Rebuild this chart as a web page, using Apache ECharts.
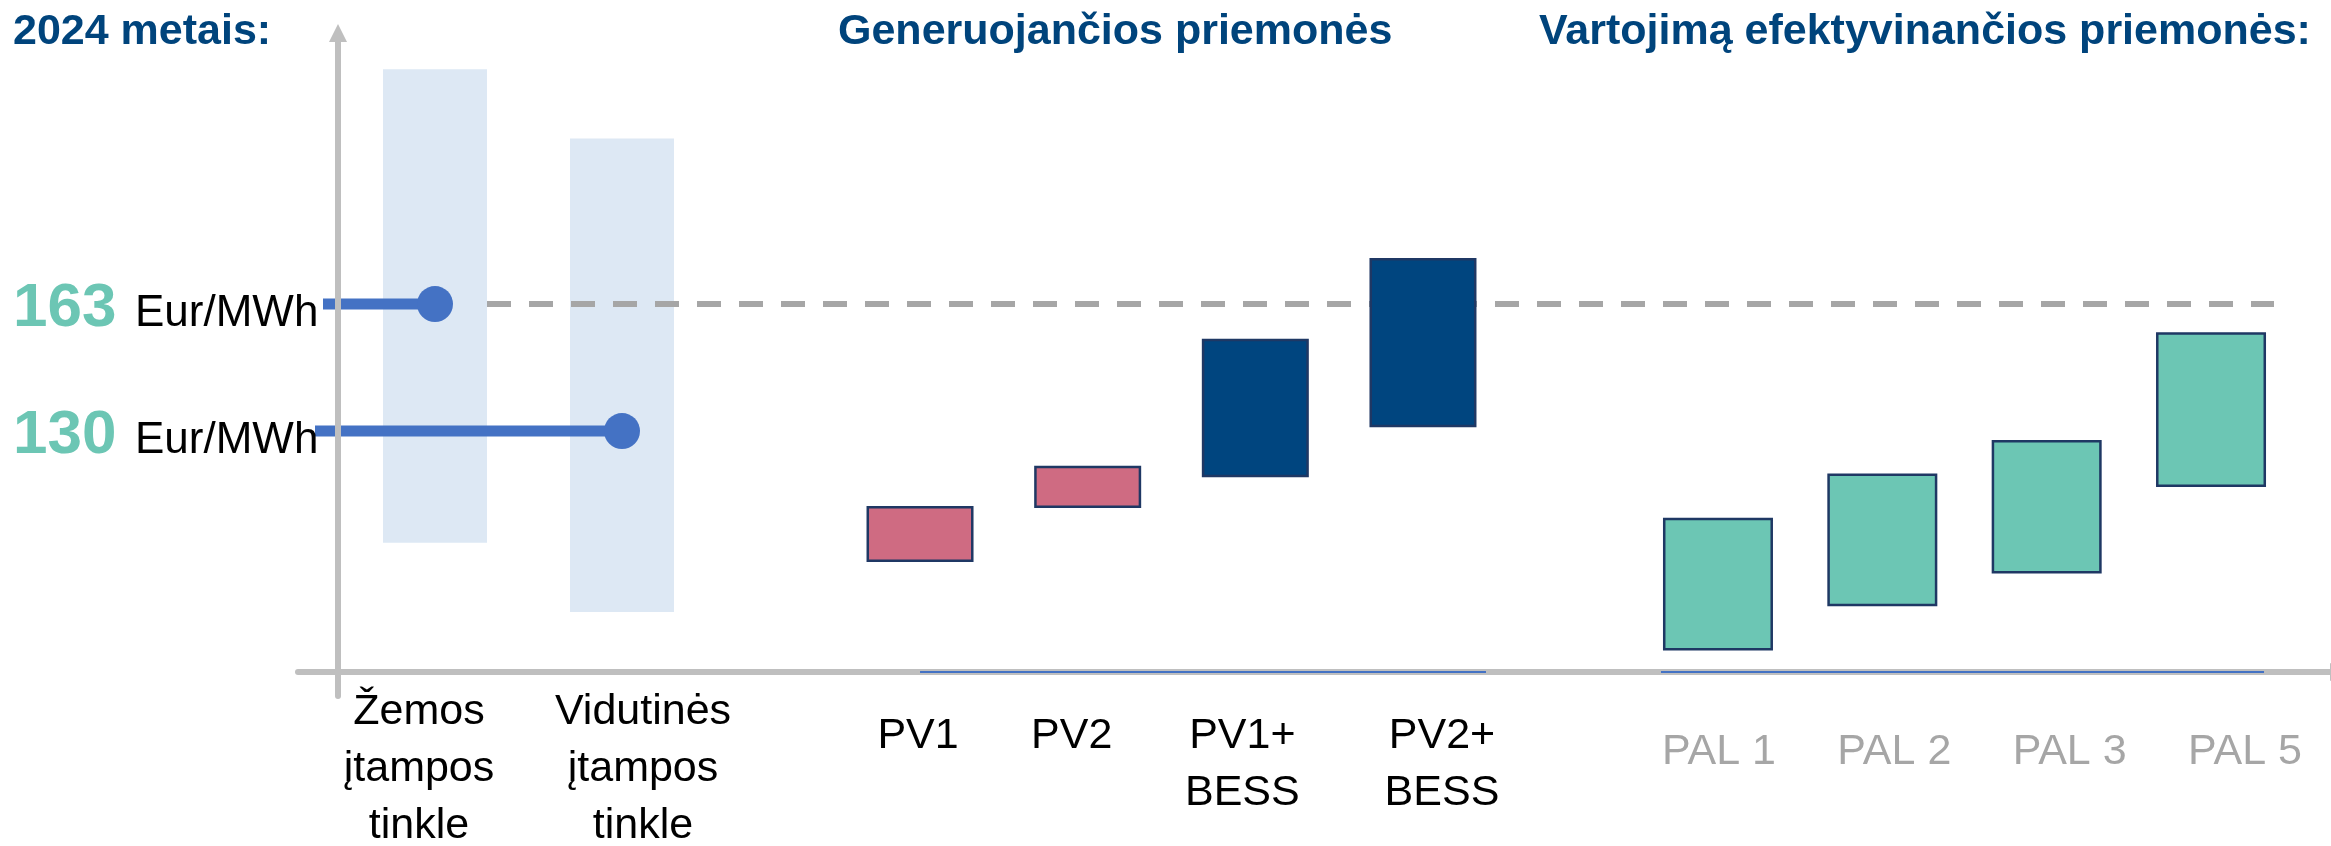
<!DOCTYPE html>
<html><head><meta charset="utf-8">
<script src="https://cdn.jsdelivr.net/npm/echarts@6/dist/echarts.min.js"></script>
<style>html,body{margin:0;padding:0;background:#fff}#c{width:2331px;height:846px}</style>
</head><body><div id="c"></div>
<script>
// ---------------- data ----------------
const titles = ['2024 metais:', 'Generuojančios priemonės', 'Vartojimą efektyvinančios priemonės:'];
const gridCategories = ['Žemos\nįtampos\ntinkle', 'Vidutinės\nįtampos\ntinkle'];
const gridLow = [101, 83];
const gridHigh = [224, 206];
const tariffValues = [163, 130];
const tariffUnit = 'Eur/MWh';
const referencePrice = 163;
const genCategories = ['PV1', 'PV2', 'PV1+\nBESS', 'PV2+\nBESS'];
const genLow = [96, 110, 118, 131];
const genHigh = [110.5, 121, 154, 175];
const effCategories = ['PAL 1', 'PAL 2', 'PAL 3', 'PAL 5'];
const effLow = [73, 84.5, 93, 115.5];
const effHigh = [107.5, 119, 127.7, 155.7];

// ---------------- style / layout ----------------
const FONT = 'Liberation Sans';
const Y_MIN = 67.4, Y_MAX = 232;
const genColors = ['#cf6b82', '#cf6b82', '#00457f', '#00457f'];
const effColor = '#6cc6b4';
const borderColor = '#1f3864';
const titleStyle = {fontSize: 43, fontWeight: 'bold', color: '#00447c', fontFamily: FONT};
const W = 2331;
// small horizontal nudges of the category labels (px)
const gridLabelShift = [-16, 21];
const genLabelShift = [-2, -16, -13, 19];
const effLabelShift = [1, 12, 23, 34];

const chart = echarts.init(document.getElementById('c'), null, {renderer: 'canvas'});

function dataGrid(l, r) {
  return {left: l, right: W - r, top: 38.5, bottom: 174, containLabel: false, outerBoundsMode: 'none'};
}
function shifted(cats, shifts) {
  return cats.map((c, i) => {
    const s = shifts[i];
    return {value: c, textStyle: {padding: s >= 0 ? [0, 0, 0, 2 * s] : [0, -2 * s, 0, 0]}};
  });
}
function catAxis(gi, cats, shifts, margin, color) {
  return {type: 'category', gridIndex: gi, data: shifted(cats, shifts), boundaryGap: true,
    axisLine: {show: false}, axisTick: {show: false}, splitLine: {show: false},
    axisLabel: {interval: 0, margin: margin, fontSize: 43, lineHeight: 57, color: color, fontFamily: FONT}};
}
function valAxis(gi) { return {type: 'value', gridIndex: gi, min: Y_MIN, max: Y_MAX, show: false}; }
function diff(h, l) { return h.map((v, i) => +(v - l[i]).toFixed(2)); }
function frameLine(endOffset) {
  return {show: true, onZero: false, symbol: ['none', 'triangle'], symbolSize: [18, 18],
    symbolOffset: [0, endOffset], lineStyle: {color: '#bfbfbf', width: 6}};
}

function baselineItem(startOff, endOff, lastIdx) {
  return function (params, api) {
    if (params.dataIndex !== 0) return null;
    const a = api.coord([0, Y_MIN]);
    const b = api.coord([lastIdx, Y_MIN]);
    return {type: 'line', shape: {x1: a[0] + startOff, y1: a[1], x2: b[0] + endOff, y2: b[1]},
      style: {stroke: '#4472c4', lineWidth: 2}};
  };
}

const option = {
  backgroundColor: '#ffffff',
  animation: false,
  title: [
    {text: titles[0], left: 13, top: 11, padding: 0, textStyle: titleStyle},
    {text: titles[1], left: 838, top: 11, padding: 0, textStyle: titleStyle},
    {text: titles[2], left: 1539, top: 11, padding: 0, textStyle: titleStyle}
  ],
  grid: [
    dataGrid(341.5, 715.5),
    dataGrid(836.2, 1506.8),
    dataGrid(1635.8, 2293.2),
    {left: 298, right: 0, top: 33, bottom: 150, containLabel: false, outerBoundsMode: 'none'}
  ],
  xAxis: [
    catAxis(0, gridCategories, gridLabelShift, 12, '#000000'),
    catAxis(1, genCategories, genLabelShift, 36, '#000000'),
    catAxis(2, effCategories, effLabelShift, 52, '#a6a6a6'),
    {type: 'value', gridIndex: 3, min: 0, max: 1, offset: -24, z: 5, axisLine: frameLine(8),
      axisTick: {show: false}, axisLabel: {show: false}, splitLine: {show: false}}
  ],
  yAxis: [
    valAxis(0), valAxis(1), valAxis(2),
    {type: 'value', gridIndex: 3, min: 0, max: 1, offset: -40, z: 5, axisLine: frameLine(0),
      axisTick: {show: false}, axisLabel: {show: false}, splitLine: {show: false}}
  ],
  series: [
    // grid tariff ranges
    {type: 'bar', xAxisIndex: 0, yAxisIndex: 0, stack: 'g', barWidth: 104, silent: true,
      itemStyle: {color: 'transparent'}, data: gridLow},
    {type: 'bar', xAxisIndex: 0, yAxisIndex: 0, stack: 'g', barWidth: 104, z: 2,
      itemStyle: {color: '#dde8f4'}, data: diff(gridHigh, gridLow)},
    // dashed reference line at the low-voltage tariff (starts at the bar's right edge)
    {type: 'custom', xAxisIndex: 0, yAxisIndex: 0, z: 3, silent: true,
      data: [[0, referencePrice]],
      renderItem: function (params, api) {
        const p = api.coord([api.value(0), api.value(1)]);
        return {type: 'line', shape: {x1: p[0] + 52, y1: p[1], x2: api.getWidth() - 57, y2: p[1]},
          style: {stroke: '#a6a6a6', lineWidth: 6, lineDash: [24, 18]}};
      }},
    // tariff lollipops with labels
    {type: 'custom', xAxisIndex: 0, yAxisIndex: 0, z: 3, silent: true,
      data: tariffValues.map((v, i) => [i, v]),
      renderItem: function (params, api) {
        const v = api.value(1);
        const p = api.coord([api.value(0), v]);
        const x0 = params.dataIndex === 0 ? 323 : 315;
        return {type: 'group', children: [
          {type: 'rect', shape: {x: x0, y: p[1] - 5.5, width: p[0] - x0, height: 11}, style: {fill: '#4472c4'}},
          {type: 'circle', shape: {cx: p[0], cy: p[1], r: 18}, style: {fill: '#4472c4'}},
          {type: 'text', style: {text: String(v), x: 13, y: p[1] + 5, fill: '#6cc6b4',
            fontSize: 62, fontWeight: 'bold', fontFamily: FONT, align: 'left', verticalAlign: 'middle'}},
          {type: 'text', style: {text: tariffUnit, x: 135, y: p[1] + 10, fill: '#000000',
            fontSize: 44, fontFamily: FONT, align: 'left', verticalAlign: 'middle'}}
        ]};
      }},
    // generating measures
    {type: 'bar', xAxisIndex: 1, yAxisIndex: 1, stack: 'p', barWidth: 107, silent: true,
      itemStyle: {color: 'transparent'}, data: genLow},
    {type: 'bar', xAxisIndex: 1, yAxisIndex: 1, stack: 'p', barWidth: 107, z: 4,
      itemStyle: {color: (p) => genColors[p.dataIndex], borderColor: borderColor, borderWidth: 2.5},
      data: diff(genHigh, genLow)},
    {type: 'custom', xAxisIndex: 1, yAxisIndex: 1, z: 6, silent: true,
      data: [[0, Y_MIN]], renderItem: baselineItem(0, 63, genCategories.length - 1)},
    // efficiency measures
    {type: 'bar', xAxisIndex: 2, yAxisIndex: 2, stack: 'e', barWidth: 110, silent: true,
      itemStyle: {color: 'transparent'}, data: effLow},
    {type: 'bar', xAxisIndex: 2, yAxisIndex: 2, stack: 'e', barWidth: 110, z: 4,
      itemStyle: {color: effColor, borderColor: borderColor, borderWidth: 2.5},
      data: diff(effHigh, effLow)},
    {type: 'custom', xAxisIndex: 2, yAxisIndex: 2, z: 6, silent: true,
      data: [[0, Y_MIN]], renderItem: baselineItem(-57, 53, effCategories.length - 1)}
  ]
};
chart.setOption(option);
</script></body></html>
